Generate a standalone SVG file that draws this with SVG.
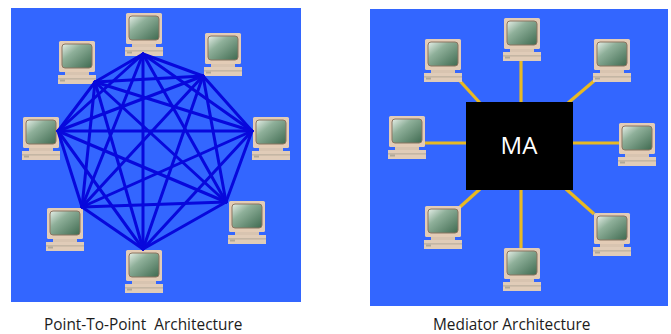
<svg xmlns="http://www.w3.org/2000/svg" width="671" height="334" viewBox="0 0 671 334">
<style>
.panel{fill:#3366ff}
.p2p line{stroke:#0808dc;stroke-width:3;stroke-linecap:round}
.med line{stroke:#e8b923;stroke-width:3.2}
.lbl{font-family:"Open Sans","Liberation Sans",sans-serif;font-size:15.4px;fill:#1c1c1c;white-space:pre}
.ma{font-family:"Open Sans","Liberation Sans",sans-serif;font-size:24px;fill:#fff;text-anchor:middle}
</style>
<defs>
<linearGradient id="scr" x1="0" y1="0" x2="1" y2="1">
<stop offset="0" stop-color="#e6efe8"/><stop offset="0.35" stop-color="#8fb09a"/><stop offset="1" stop-color="#3f6a50"/>
</linearGradient>
<g id="pc">
<rect x="1" y="0" width="36" height="31" rx="1.5" fill="#e3ccb6"/>
<rect x="4" y="3" width="30" height="24" rx="3" fill="url(#scr)" stroke="#8a7460" stroke-width="1"/>
<rect x="7" y="31" width="24" height="3" fill="#d8c4b0"/>
<rect x="0" y="34" width="38" height="9" fill="#e0ccb8"/>
<rect x="0" y="37.500" width="38" height="0.800" fill="#a8a090"/>
<rect x="2" y="38.500" width="5" height="2" fill="#b0a898"/>
</g>
</defs>
<rect class="panel" id="panel-left" x="11" y="8" width="290" height="294"/>
<rect class="panel" id="panel-right" x="370" y="9" width="298" height="297"/>
<g id="n1"><use href="#pc" x="125" y="13"/></g>
<g id="n2"><use href="#pc" x="58" y="41"/></g>
<g id="n3"><use href="#pc" x="204" y="33"/></g>
<g id="n4"><use href="#pc" x="22" y="117"/></g>
<g id="n5"><use href="#pc" x="252" y="117"/></g>
<g id="n6"><use href="#pc" x="46" y="208"/></g>
<g id="n7"><use href="#pc" x="228" y="201"/></g>
<g id="n8"><use href="#pc" x="125" y="250"/></g>
<g id="connectors-p2p" class="p2p">
<line x1="143" y1="54" x2="95" y2="82"/><line x1="143" y1="54" x2="203" y2="76"/><line x1="143" y1="54" x2="58" y2="131"/><line x1="143" y1="54" x2="252" y2="131"/><line x1="143" y1="54" x2="82" y2="207"/><line x1="143" y1="54" x2="226" y2="202"/><line x1="143" y1="54" x2="143" y2="249"/>
<line x1="95" y1="82" x2="203" y2="76"/><line x1="95" y1="82" x2="58" y2="131"/><line x1="95" y1="82" x2="252" y2="131"/><line x1="95" y1="82" x2="82" y2="207"/><line x1="95" y1="82" x2="226" y2="202"/><line x1="95" y1="82" x2="143" y2="249"/>
<line x1="203" y1="76" x2="58" y2="131"/><line x1="203" y1="76" x2="252" y2="131"/><line x1="203" y1="76" x2="82" y2="207"/><line x1="203" y1="76" x2="226" y2="202"/><line x1="203" y1="76" x2="143" y2="249"/>
<line x1="58" y1="131" x2="252" y2="131"/><line x1="58" y1="131" x2="82" y2="207"/><line x1="58" y1="131" x2="226" y2="202"/><line x1="58" y1="131" x2="143" y2="249"/>
<line x1="252" y1="131" x2="82" y2="207"/><line x1="252" y1="131" x2="226" y2="202"/><line x1="252" y1="131" x2="143" y2="249"/>
<line x1="82" y1="207" x2="226" y2="202"/><line x1="82" y1="207" x2="143" y2="249"/>
<line x1="226" y1="202" x2="143" y2="249"/>
</g>
<g id="connectors-med" class="med">
<line x1="521" y1="60" x2="521" y2="102"/><line x1="521" y1="190" x2="521" y2="249"/>
<line x1="423" y1="143" x2="466" y2="143"/><line x1="573" y1="143" x2="619" y2="143"/>
<line x1="460" y1="81" x2="480" y2="103"/><line x1="594" y1="81" x2="568" y2="103"/>
<line x1="480" y1="189" x2="460" y2="207"/><line x1="566" y1="189" x2="594" y2="214"/>
</g>
<g id="m1"><use href="#pc" x="503" y="18"/></g>
<g id="m2"><use href="#pc" x="424" y="39"/></g>
<g id="m3"><use href="#pc" x="593" y="39"/></g>
<g id="m4"><use href="#pc" x="388" y="116"/></g>
<g id="m5"><use href="#pc" x="618" y="123"/></g>
<g id="m6"><use href="#pc" x="424" y="206"/></g>
<g id="m7"><use href="#pc" x="593" y="213"/></g>
<g id="m8"><use href="#pc" x="503" y="248"/></g>
<g id="ma"><rect x="466" y="102" width="107" height="88" fill="#000"/><text class="ma" x="519" y="154">MA</text></g>
<text class="lbl" x="44" y="329.500">Point-To-Point  Architecture</text>
<text class="lbl" x="433" y="329.500">Mediator Architecture</text>
</svg>
